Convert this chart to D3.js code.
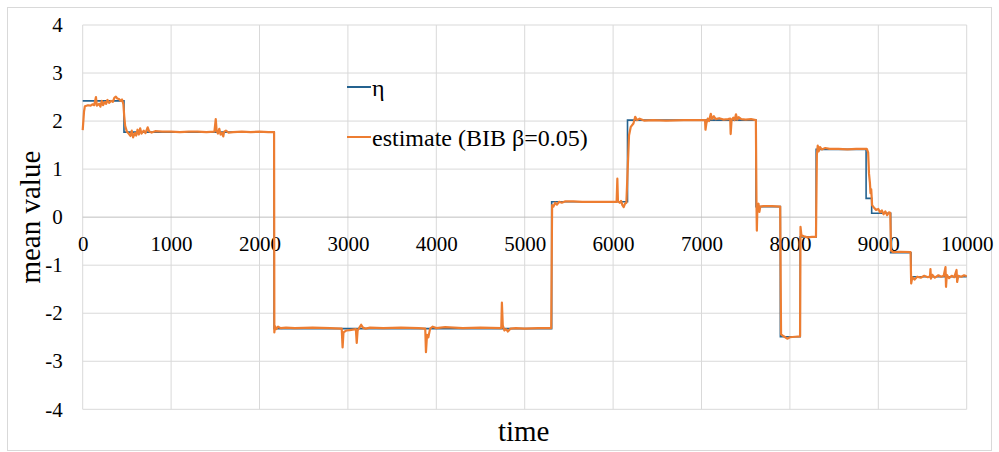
<!DOCTYPE html>
<html><head><meta charset="utf-8">
<script src="https://cdn.jsdelivr.net/npm/d3@7"></script>
<style>body{margin:0;background:#fff}svg{display:block}</style>
</head><body>
<svg id="c" width="999" height="452"></svg>
<script>
const xTicks = [0,1000,2000,3000,4000,5000,6000,7000,8000,9000,10000];
const yTicks = [-4,-3,-2,-1,0,1,2,3,4];
const seriesNames = ["η","estimate (BIB β=0.05)"];
// η : step function, value holds from each time to the next
const etaT = [0,467,2165,5305,6163,7617,7892,8117,8297,8862,8925,9140,9370,10000];
const etaV = [2.42,1.77,-2.32,0.32,2.02,0.22,-2.49,-0.41,1.41,0.39,0.08,-0.74,-1.24,-1.24];
// estimate series (time, value)
const estT = [0,15,25,60,90,110,130,150,160,185,200,215,230,250,265,280,300,320,340,360,375,390,410,430,445,460,470,480,500,520,540,555,570,590,605,620,635,650,665,690,710,735,750,780,820,900,1000,1100,1200,1300,1400,1490,1505,1515,1530,1545,1560,1575,1590,1600,1620,1650,1700,1800,1900,2000,2100,2165,
2168,2175,2190,2210,2240,2300,2400,2600,2800,2930,2940,2950,2980,3020,3090,3100,3110,3130,3150,3170,3200,3250,3400,3600,3800,3875,3883,3895,3910,3930,3960,4000,4100,4300,4500,4735,4742,4752,4770,4790,4810,4840,4900,5000,5150,5300,
5310,5325,5345,5365,5390,5420,5460,5550,5650,5800,5950,6040,6048,6055,6075,6090,6105,6120,6135,6150,6165,6180,6200,6230,6250,6270,6300,6350,6450,6600,6800,7000,7040,7045,7055,7070,7085,7105,7120,7140,7160,7200,7250,7300,7325,7330,7340,7360,7375,7390,7405,7420,7450,7500,7560,7615,
7622,7626,7632,7645,7655,7665,7700,7800,7890,7900,7930,7970,8000,8060,8115,8120,8130,8160,8200,8250,8295,8305,8315,8325,8340,8360,8400,8450,8550,8650,8750,8870,8885,8895,8905,8912,8920,8930,8950,8975,9000,9020,9040,9060,9080,9100,9120,9135,9145,9170,9250,9365,
9372,9385,9410,9440,9480,9520,9560,9585,9590,9595,9610,9640,9680,9710,9740,9760,9766,9775,9800,9830,9860,9885,9892,9905,9940,9970,10000];
const estV = [1.81,2.2,2.31,2.33,2.32,2.35,2.33,2.5,2.32,2.36,2.30,2.42,2.33,2.4,2.36,2.44,2.38,2.42,2.40,2.49,2.51,2.47,2.46,2.42,2.45,2.35,2.1,1.9,1.78,1.74,1.69,1.80,1.66,1.75,1.70,1.82,1.72,1.85,1.74,1.80,1.75,1.87,1.79,1.76,1.79,1.78,1.78,1.77,1.78,1.78,1.77,1.78,2.04,1.80,1.74,1.84,1.72,1.76,1.68,1.78,1.80,1.76,1.77,1.78,1.77,1.78,1.77,1.77,
-2.40,-2.27,-2.33,-2.28,-2.31,-2.30,-2.31,-2.30,-2.31,-2.32,-2.71,-2.40,-2.36,-2.35,-2.33,-2.62,-2.36,-2.30,-2.24,-2.30,-2.32,-2.30,-2.31,-2.30,-2.31,-2.32,-2.81,-2.45,-2.50,-2.32,-2.28,-2.31,-2.29,-2.31,-2.30,-2.31,-1.78,-2.25,-2.36,-2.33,-2.38,-2.32,-2.31,-2.32,-2.31,-2.31,
0.25,0.22,0.30,0.26,0.32,0.30,0.33,0.33,0.32,0.32,0.32,0.32,0.80,0.33,0.30,0.34,0.25,0.21,0.28,0.30,1.0,1.70,1.88,1.95,2.09,2.02,2.05,2.01,2.02,2.01,2.02,2.02,2.02,1.82,1.95,2.05,2.00,2.15,2.04,2.10,2.04,2.06,2.03,2.04,2.05,1.73,2.02,2.07,2.02,2.14,2.03,2.08,2.04,2.03,2.04,2.02,
0.3,-0.28,0.2,0.28,0.11,0.22,0.23,0.23,0.22,-2.44,-2.48,-2.53,-2.50,-2.49,-2.48,-0.2,-0.38,-0.40,-0.42,-0.41,-0.41,1.3,1.49,1.37,1.46,1.41,1.44,1.42,1.42,1.41,1.42,1.42,1.35,0.9,0.72,0.5,0.58,0.25,0.20,0.15,0.17,0.10,0.14,0.06,0.12,0.04,0.10,0.09,-0.70,-0.73,-0.72,-0.73,
-1.38,-1.25,-1.30,-1.24,-1.26,-1.22,-1.25,-1.23,-1.08,-1.28,-1.20,-1.26,-1.21,-1.24,-1.22,-1.04,-1.45,-1.20,-1.27,-1.22,-1.25,-1.10,-1.35,-1.22,-1.24,-1.21,-1.23];

const FONT = "Liberation Serif";
const svg = d3.select("#c");
svg.append("rect").attr("x",7.5).attr("y",7.5).attr("width",984).attr("height",443)
  .attr("fill","#fff").attr("stroke","#d9d9d9");

const x = d3.scaleLinear().domain([0,10000]).range([82.7,966.7]);
const y = d3.scaleLinear().domain([-4,4]).range([409.3,25]);

// gridlines
svg.append("g").selectAll("line").data(xTicks).join("line")
  .attr("x1",d=>x(d)).attr("x2",d=>x(d)).attr("y1",y(4)).attr("y2",y(-4))
  .attr("stroke","#d9d9d9").attr("stroke-width",1);
svg.append("g").selectAll("line").data(yTicks).join("line")
  .attr("x1",x(0)).attr("x2",x(10000)).attr("y1",d=>y(d)).attr("y2",d=>y(d))
  .attr("stroke",d=>d===0?"#bfbfbf":"#d9d9d9").attr("stroke-width",1);

// axes (labels only)
const fmt = d => String(d);
const yAxis = d3.axisLeft(y).tickValues(yTicks).tickSize(0).tickPadding(0).tickFormat(fmt);
const gy = svg.append("g").attr("transform",`translate(${x(0)-20},0)`).call(yAxis);
gy.select(".domain").remove();
gy.attr("font-family",FONT).attr("font-size",21);
gy.selectAll("text").attr("fill","#000");

const xAxis = d3.axisBottom(x).tickValues(xTicks).tickSize(0).tickPadding(0).tickFormat(fmt);
const gx = svg.append("g").attr("transform",`translate(0,${y(0)+26})`).call(xAxis);
gx.select(".domain").remove();
gx.attr("font-family",FONT).attr("font-size",21);
gx.selectAll("text").attr("fill","#000").attr("dy","0.35em");

// lines
const eta = etaT.map((t,i)=>[t,etaV[i]]);
const est = estT.map((t,i)=>[t,estV[i]]);
svg.append("path").datum(eta)
  .attr("d",d3.line().x(d=>x(d[0])).y(d=>y(d[1])).curve(d3.curveStepAfter))
  .attr("fill","none").attr("stroke","#24628f").attr("stroke-width",1.6);
svg.append("path").datum(est)
  .attr("d",d3.line().x(d=>x(d[0])).y(d=>y(d[1])))
  .attr("fill","none").attr("stroke","#ed7d31").attr("stroke-width",2.2).attr("stroke-linejoin","round");

// axis titles
svg.append("text").attr("transform",`translate(40,${(y(4)+y(-4))/2}) rotate(-90)`)
  .attr("text-anchor","middle").attr("font-family",FONT).attr("font-size",29).text("mean value");
svg.append("text").attr("x",(x(0)+x(10000))/2 - 1).attr("y",441)
  .attr("text-anchor","middle").attr("font-family",FONT).attr("font-size",29).text("time");

// legend
const colors = ["#24628f","#ed7d31"];
const leg = svg.append("g");
[88,138].forEach((ly,i)=>{
  leg.append("line").attr("x1",347).attr("x2",371).attr("y1",ly-1).attr("y2",ly-1)
    .attr("stroke",colors[i]).attr("stroke-width",2);
  leg.append("text").attr("x",372).attr("y",ly).attr("dy","0.35em")
    .attr("font-family",FONT).attr("font-size",24).text(seriesNames[i]);
});
</script>
</body></html>
